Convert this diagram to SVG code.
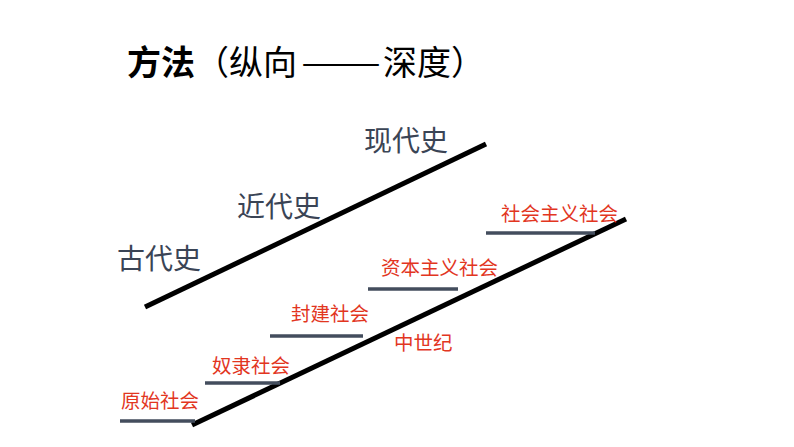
<svg xmlns="http://www.w3.org/2000/svg" width="794" height="447" viewBox="0 0 794 447">
<style>
  .cjk { font-family: "Noto Sans CJK SC", "Noto Sans CJK JP", sans-serif; }
  .title { font-size: 34px; fill: #000; }
  .era { font-size: 28px; fill: #3a4455; }
  .soc { font-size: 19.5px; fill: #e2361f; }
  .axis { stroke: #000; stroke-width: 5; stroke-linecap: butt; fill: none; }
  .step { stroke: #434d5d; stroke-width: 3.5; fill: none; }
</style>
<rect width="794" height="447" fill="#fff"/>
<g id="title" class="cjk title">
  <text x="127" y="75"><tspan font-weight="bold">方法</tspan><tspan>（纵向</tspan></text>
  <text x="301" y="75" textLength="80" lengthAdjust="spacingAndGlyphs">——</text>
  <text x="383" y="75">深度）</text>
</g>
<g id="connectors">
  <line class="axis" x1="145" y1="307" x2="486" y2="144"/>
  <line class="axis" x1="192" y1="425" x2="626" y2="219"/>
  <line class="step" x1="120" y1="421" x2="195" y2="421"/>
  <line class="step" x1="205" y1="383" x2="280" y2="383"/>
  <line class="step" x1="270" y1="336" x2="363" y2="336"/>
  <line class="step" x1="368" y1="289" x2="458" y2="289"/>
  <line class="step" x1="486" y1="233" x2="595" y2="233"/>
</g>
<g id="era-ancient"><text class="cjk era" x="117" y="269">古代史</text></g>
<g id="era-modern"><text class="cjk era" x="237" y="217">近代史</text></g>
<g id="era-contemporary"><text class="cjk era" x="364" y="151">现代史</text></g>
<g id="soc-primitive"><text class="cjk soc" x="121" y="408">原始社会</text></g>
<g id="soc-slave"><text class="cjk soc" x="212" y="373">奴隶社会</text></g>
<g id="soc-feudal"><text class="cjk soc" x="291" y="321">封建社会</text></g>
<g id="soc-capitalist"><text class="cjk soc" x="381" y="275">资本主义社会</text></g>
<g id="soc-socialist"><text class="cjk soc" x="501" y="221">社会主义社会</text></g>
<g id="middle-ages"><text class="cjk soc" x="394" y="350">中世纪</text></g>
</svg>
